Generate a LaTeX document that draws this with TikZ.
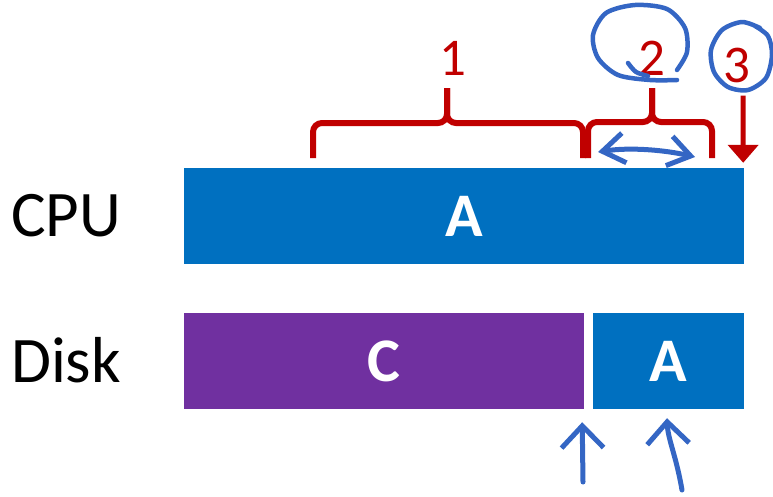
\documentclass[tikz,border=0pt]{standalone}
\usepackage{fontspec}
\setmainfont{Carlito}
\usetikzlibrary{arrows.meta}
\definecolor{barblue}{RGB}{0,112,192}
\definecolor{barpurple}{RGB}{112,48,160}
\definecolor{markred}{RGB}{192,0,0}
\definecolor{penblue}{RGB}{52,102,196}
\tikzstyle{bar} = [rectangle, minimum height=96pt, inner sep=0pt, text=white, font=\fontsize{62}{62}\selectfont\bfseries]
\tikzstyle{rowlabel} = [anchor=base, inner sep=0pt, font=\fontsize{65}{65}\selectfont]
\tikzstyle{num} = [anchor=base, inner sep=0pt, text=markred, font=\fontsize{53}{53}\selectfont]
\tikzstyle{brace} = [markred, line width=6pt, rounded corners=9pt]
\tikzstyle{redarrow} = [markred, line width=5pt, -{Triangle[length=18pt,width=30pt]}]
\tikzstyle{ink} = [penblue, line width=5pt, line cap=round, line join=round]
\tikzstyle{inkarrow} = [ink, -{Straight Barb[length=22pt,width=42pt]}]

\begin{document}
\begin{tikzpicture}[x=1pt,y=-1pt]
            \useasboundingbox (0,0) rectangle (773,496);

            % rows
            \node [rowlabel] at (66,236) (lblCPU) {CPU};
            \node [rowlabel] at (66,382) (lblDisk) {Disk};
            \node [bar, fill=barblue, minimum width=560pt] at (464,216) (cpuA) {A};
            \node [bar, fill=barpurple, minimum width=400pt] at (384,361) (diskC) {C};
            \node [bar, fill=barblue, minimum width=151pt] at (668.5,361) (diskA) {A};

            % numbered marks
            \node [num] at (453,75) (n1) {1};
            \node [num] at (652,75) (n2) {2};
            \node [num] at (737,82) (n3) {3};

            \draw [brace] (313,158) -- (313,123) -- (447,123) -- (447,88);
            \draw [brace] (583,158) -- (583,123) -- (447,123) -- (447,88);
            \draw [brace] (588,158) -- (588,122) -- (652,122) -- (652,88);
            \draw [brace] (712,158) -- (712,122) -- (652,122) -- (652,88);
            \draw [redarrow] ([xshift=6pt,yshift=-13pt]n3.south) -- ([xshift=-1pt,yshift=5pt]cpuA.north east);

            % pen strokes
            \draw [ink, line width=4.5pt] plot[smooth] coordinates {(677,80) (650,80) (618,75) (598,58) (593,35) (606,13) (635,5) (667,9) (685,28) (687,52) (677,70)};
            \draw [ink, line width=4.5pt] plot[smooth] coordinates {(628,63) (636,72) (648,76)};
            \draw [ink, line width=4.5pt] plot[smooth] coordinates {(760,28) (742,22) (722,30) (711,50) (714,72) (728,87) (748,90) (766,78) (772,55) (768,36) (755,26)};
            \draw [ink, {Straight Barb[length=22pt,width=30pt]}-{Straight Barb[length=22pt,width=30pt]}] (598,152) .. controls (630,147) and (665,150) .. (695,157);

            \coordinate (tailL) at (583,482);
            \coordinate (tailR) at (682,490);
            \draw [inkarrow] (tailL) -- ([xshift=-2pt,yshift=-13pt]diskC.south east);
            \draw [inkarrow] (tailR) .. controls (676,455) and (668,440) .. ([xshift=-1.5pt,yshift=-9pt]diskA.south);
\end{tikzpicture}
\end{document}
